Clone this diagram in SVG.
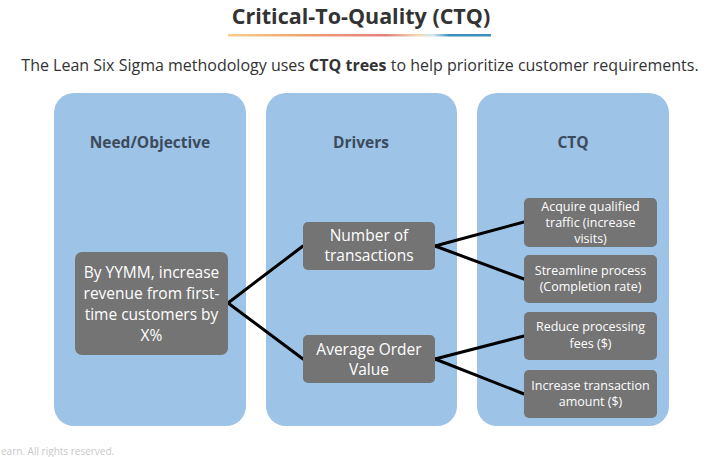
<svg xmlns="http://www.w3.org/2000/svg" width="715" height="457" viewBox="0 0 715 457">
<defs>
<linearGradient id="ul" x1="0" y1="0" x2="1" y2="0">
<stop offset="0" stop-color="#f7cf8a"/>
<stop offset="0.3" stop-color="#f0a070"/>
<stop offset="0.6" stop-color="#e48080"/>
<stop offset="0.72" stop-color="#f3d9b0"/>
<stop offset="0.78" stop-color="#cfe9f3"/>
<stop offset="0.84" stop-color="#3e8ec3"/>
<stop offset="1" stop-color="#3e8ec3"/>
</linearGradient>
<style>
.panel{fill:#9dc3e6;}
.node{fill:#747474;}
.hdr{font-family:"Open Sans","Liberation Sans",sans-serif;font-weight:bold;font-size:15.5px;fill:#3b4b5c;text-anchor:middle;}
.big{font-family:"Open Sans","Liberation Sans",sans-serif;font-size:15.5px;fill:#ffffff;text-anchor:middle;}
.sm{font-family:"Open Sans","Liberation Sans",sans-serif;font-size:12.5px;fill:#ffffff;text-anchor:middle;}
.conn line{stroke:#000000;stroke-width:3;stroke-linecap:round;}
</style>
</defs>
<rect width="715" height="457" fill="#ffffff"/>
<text x="361" y="24" font-family="'Open Sans','Liberation Sans',sans-serif" font-weight="bold" font-size="21.5" fill="#333333" text-anchor="middle">Critical-To-Quality (CTQ)</text>
<rect x="228" y="34" width="263" height="2.5" fill="url(#ul)"/>
<text x="360" y="71" font-family="'Open Sans','Liberation Sans',sans-serif" font-size="16" fill="#333333" text-anchor="middle">The Lean Six Sigma methodology uses <tspan font-weight="bold">CTQ trees</tspan> to help prioritize customer requirements.</text>
<g id="panel-need"><rect class="panel" x="54" y="93" width="192" height="333" rx="20"/><text class="hdr" x="150" y="148">Need/Objective</text></g>
<g id="panel-drivers"><rect class="panel" x="266" y="93" width="191" height="333" rx="20"/><text class="hdr" x="361" y="148">Drivers</text></g>
<g id="panel-ctq"><rect class="panel" x="477" y="93" width="192" height="333" rx="20"/><text class="hdr" x="573" y="148">CTQ</text></g>
<g class="conn" id="connectors">
<line x1="228" y1="303" x2="303" y2="246"/>
<line x1="228" y1="303" x2="303" y2="359"/>
<line x1="435" y1="246" x2="524" y2="222"/>
<line x1="435" y1="246" x2="524" y2="279"/>
<line x1="435" y1="359" x2="524" y2="336"/>
<line x1="435" y1="359" x2="524" y2="394"/>
</g>
<g id="objective"><rect class="node" x="75" y="252" width="153" height="103" rx="7"/>
<text class="big" x="151.5" y="278">By YYMM, increase</text>
<text class="big" x="151.5" y="299">revenue from first-</text>
<text class="big" x="151.5" y="320">time customers by</text>
<text class="big" x="151.5" y="341">X%</text></g>
<g id="num-trans"><rect class="node" x="303" y="222" width="132" height="48" rx="5"/>
<text class="big" x="369" y="241">Number of</text>
<text class="big" x="369" y="261">transactions</text></g>
<g id="aov"><rect class="node" x="303" y="335" width="132" height="48" rx="5"/>
<text class="big" x="369" y="355">Average Order</text>
<text class="big" x="369" y="375">Value</text></g>
<g id="ctq1"><rect class="node" x="524" y="198" width="133" height="49" rx="5"/>
<text class="sm" x="590.5" y="211">Acquire qualified</text>
<text class="sm" x="590.5" y="227">traffic (increase</text>
<text class="sm" x="590.5" y="243">visits)</text></g>
<g id="ctq2"><rect class="node" x="524" y="255" width="133" height="48" rx="5"/>
<text class="sm" x="590.5" y="275">Streamline process</text>
<text class="sm" x="590.5" y="291">(Completion rate)</text></g>
<g id="ctq3"><rect class="node" x="524" y="312" width="133" height="48" rx="5"/>
<text class="sm" x="590.5" y="331">Reduce processing</text>
<text class="sm" x="590.5" y="348">fees ($)</text></g>
<g id="ctq4"><rect class="node" x="524" y="370" width="133" height="48" rx="5"/>
<text class="sm" x="590.5" y="390">Increase transaction</text>
<text class="sm" x="590.5" y="406">amount ($)</text></g>
<text x="1" y="455" font-family="'Open Sans','Liberation Sans',sans-serif" font-size="10" fill="#c8c8c8">earn. All rights reserved.</text>
</svg>
